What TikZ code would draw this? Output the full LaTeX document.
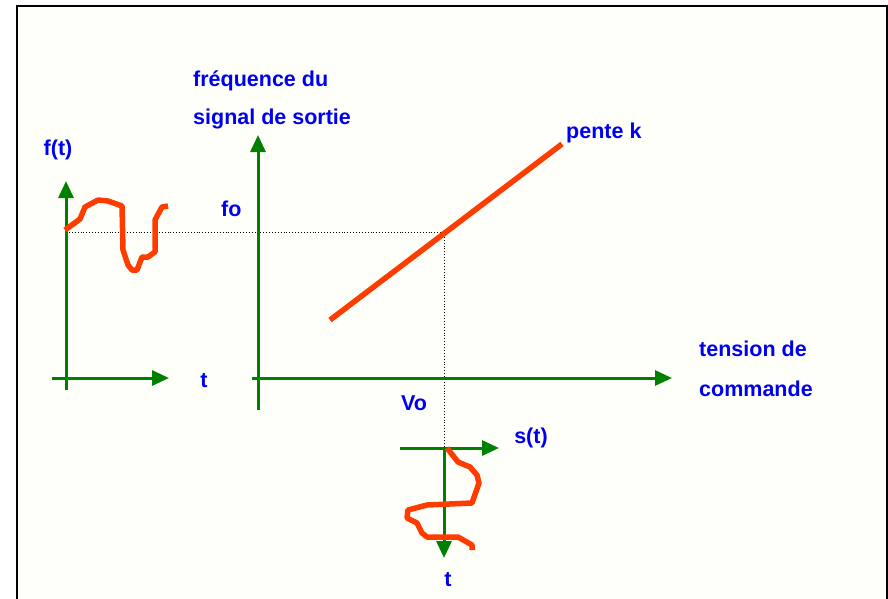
\documentclass[tikz,border=0pt]{standalone}
\usepackage{fontspec}
\setmainfont{Liberation Sans}
\usetikzlibrary{arrows.meta}
\definecolor{axgreen}{RGB}{0,128,0}
\definecolor{curvered}{RGB}{255,60,0}
\definecolor{txtblue}{RGB}{0,0,240}
\begin{document}
\begin{tikzpicture}[x=1pt,y=-1pt,
  axis/.style={draw=axgreen,line width=3pt,-{Triangle[length=17pt,width=15pt]}},
  curve/.style={draw=curvered,line width=5.5pt,line join=round,line cap=butt},
  guide/.style={draw=black,dotted,line width=0.9pt},
  lbl/.style={text=txtblue,font=\bfseries\fontsize{21.5}{25}\selectfont,inner sep=0pt},
  lblw/.style={lbl,anchor=base west}]
\useasboundingbox (0,0) rectangle (888,598);
\fill[white!98!yellow] (16.5,6) rectangle (886.5,610);
\draw[line width=2pt] (16.5,6) rectangle (886.5,610);

% coordinates
\coordinate (lvb) at (66,390);  \coordinate (lvt) at (66,181);
\coordinate (lhl) at (52,378);  \coordinate (lhr) at (169,378);
\coordinate (mvb) at (258,410); \coordinate (mvt) at (258,135);
\coordinate (mhl) at (252,378); \coordinate (mhr) at (672,378);
\coordinate (bhl) at (400,448); \coordinate (bhr) at (499,448);
\coordinate (bvt) at (444,448); \coordinate (bvb) at (444,558);
\coordinate (fo) at (66,232);   \coordinate (op) at (444,232);
\coordinate (vo) at (444,448);
\coordinate (ps) at (330,320);  \coordinate (pe) at (562,144);

% dotted guides
\draw[guide] (fo) -- (op) -- (vo);

% axes
\draw[axis] (lvb) -- (lvt);
\draw[axis] (lhl) -- (lhr);
\draw[axis] (mvb) -- (mvt);
\draw[axis] (mhl) -- (mhr);
\draw[axis] (bhl) -- (bhr);
\draw[axis] (bvt) -- (bvb);

% slope line
\draw[curve] (ps) -- (pe);

% f(t) curve
\draw[curve] (65,230) -- (80,219) -- (85,207) -- (98,200) -- (108,201) -- (122,206)
  -- (123,250) -- (128,265) -- (132,270) -- (137,270) -- (142,257) -- (148,257)
  -- (155,252) -- (155,220) -- (162,207) -- (168,206);

% s(t) curve
\draw[curve] (447,448) -- (458,462) -- (470,467) -- (477,475) -- (479,483)
  -- (472,503) -- (427,505) -- (408,510) -- (407,518) -- (417,523) -- (422,533)
  -- (427,537) -- (458,537) -- (472,545) -- (472,550);

% labels
\node[lbl] (ft) at (58,150) {f(t)};
\node[lbl] (t1) at (204,381) {t};
\node[lblw] (fr1) at (193,86.5) {fréquence du};
\node[lblw] (fr2) at (193,124) {signal de sortie};
\node[lblw] (fol) at (221,216.5) {fo};
\node[lblw] (pk) at (566,138) {pente k};
\node[lblw] (tc1) at (699,356.5) {tension de};
\node[lblw] (tc2) at (699,396) {commande};
\node[lbl] (vol) at (414,403) {Vo};
\node[lbl] (st) at (531,438) {s(t)};
\node[lbl] (t2) at (448,580) {t};
\end{tikzpicture}
\end{document}
